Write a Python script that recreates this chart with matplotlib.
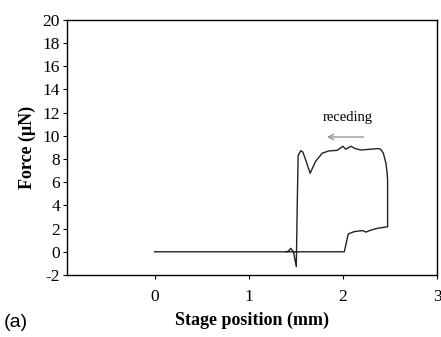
import matplotlib.pyplot as plt

# stage position (mm) and force (uN)
position = [0.0, 1.394, 1.42, 1.447, 1.475, 1.505, 1.515, 1.525, 1.553, 1.575,
            1.61, 1.652, 1.71, 1.78, 1.85, 1.94, 2.0, 2.03, 2.085, 2.13,
            2.19, 2.30, 2.37, 2.40, 2.43, 2.457, 2.47, 2.475, 2.475, 2.37, 2.30, 2.245,
            2.21, 2.12, 2.057, 2.015, 1.40]
force = [0.0, 0.0, 0.05, 0.3, 0.0, -1.28, 4.0, 8.3, 8.72, 8.6,
         7.8, 6.77, 7.8, 8.5, 8.7, 8.75, 9.1, 8.85, 9.1, 8.9,
         8.78, 8.85, 8.9, 8.85, 8.5, 7.64, 6.8, 6.2, 2.16, 2.03, 1.88, 1.7,
         1.83, 1.74, 1.54, 0.0, 0.0]

plt.rcParams['font.family'] = ['Liberation Serif', 'DejaVu Serif']
plt.rcParams['axes.unicode_minus'] = False

fig = plt.figure(figsize=(4.41, 3.37), dpi=100)
ax = fig.add_axes([0.152, 0.184, 0.839, 0.757])

ax.plot(position, force, color='#222222', linewidth=1.0)

ax.set_xlim(-0.93, 3.0)
ax.set_ylim(-2, 20)
ax.set_xticks([0, 1, 2, 3])
ax.set_yticks(range(-2, 21, 2))
ax.tick_params(direction='out', length=3, labelsize=12.5, pad=2)
ax.tick_params(axis='x', pad=7)
for s in ax.spines.values():
    s.set_linewidth(1.0)

ax.set_ylabel('Force (\u03bcN)', fontsize=13, fontweight='bold', labelpad=5)
ax.set_xlabel('Stage position (mm)', fontsize=13, fontweight='bold', labelpad=5)

ax.annotate('', xy=(1.8, 9.9), xytext=(2.25, 9.9),
            arrowprops=dict(arrowstyle='->', color='#999999', lw=1.0))
ax.text(2.05, 11.0, 'receding', fontsize=10.5, ha='center', va='bottom')

fig.text(0.008, 0.03, '(a)', fontsize=14, family='Liberation Sans')

fig.savefig('out.png')
